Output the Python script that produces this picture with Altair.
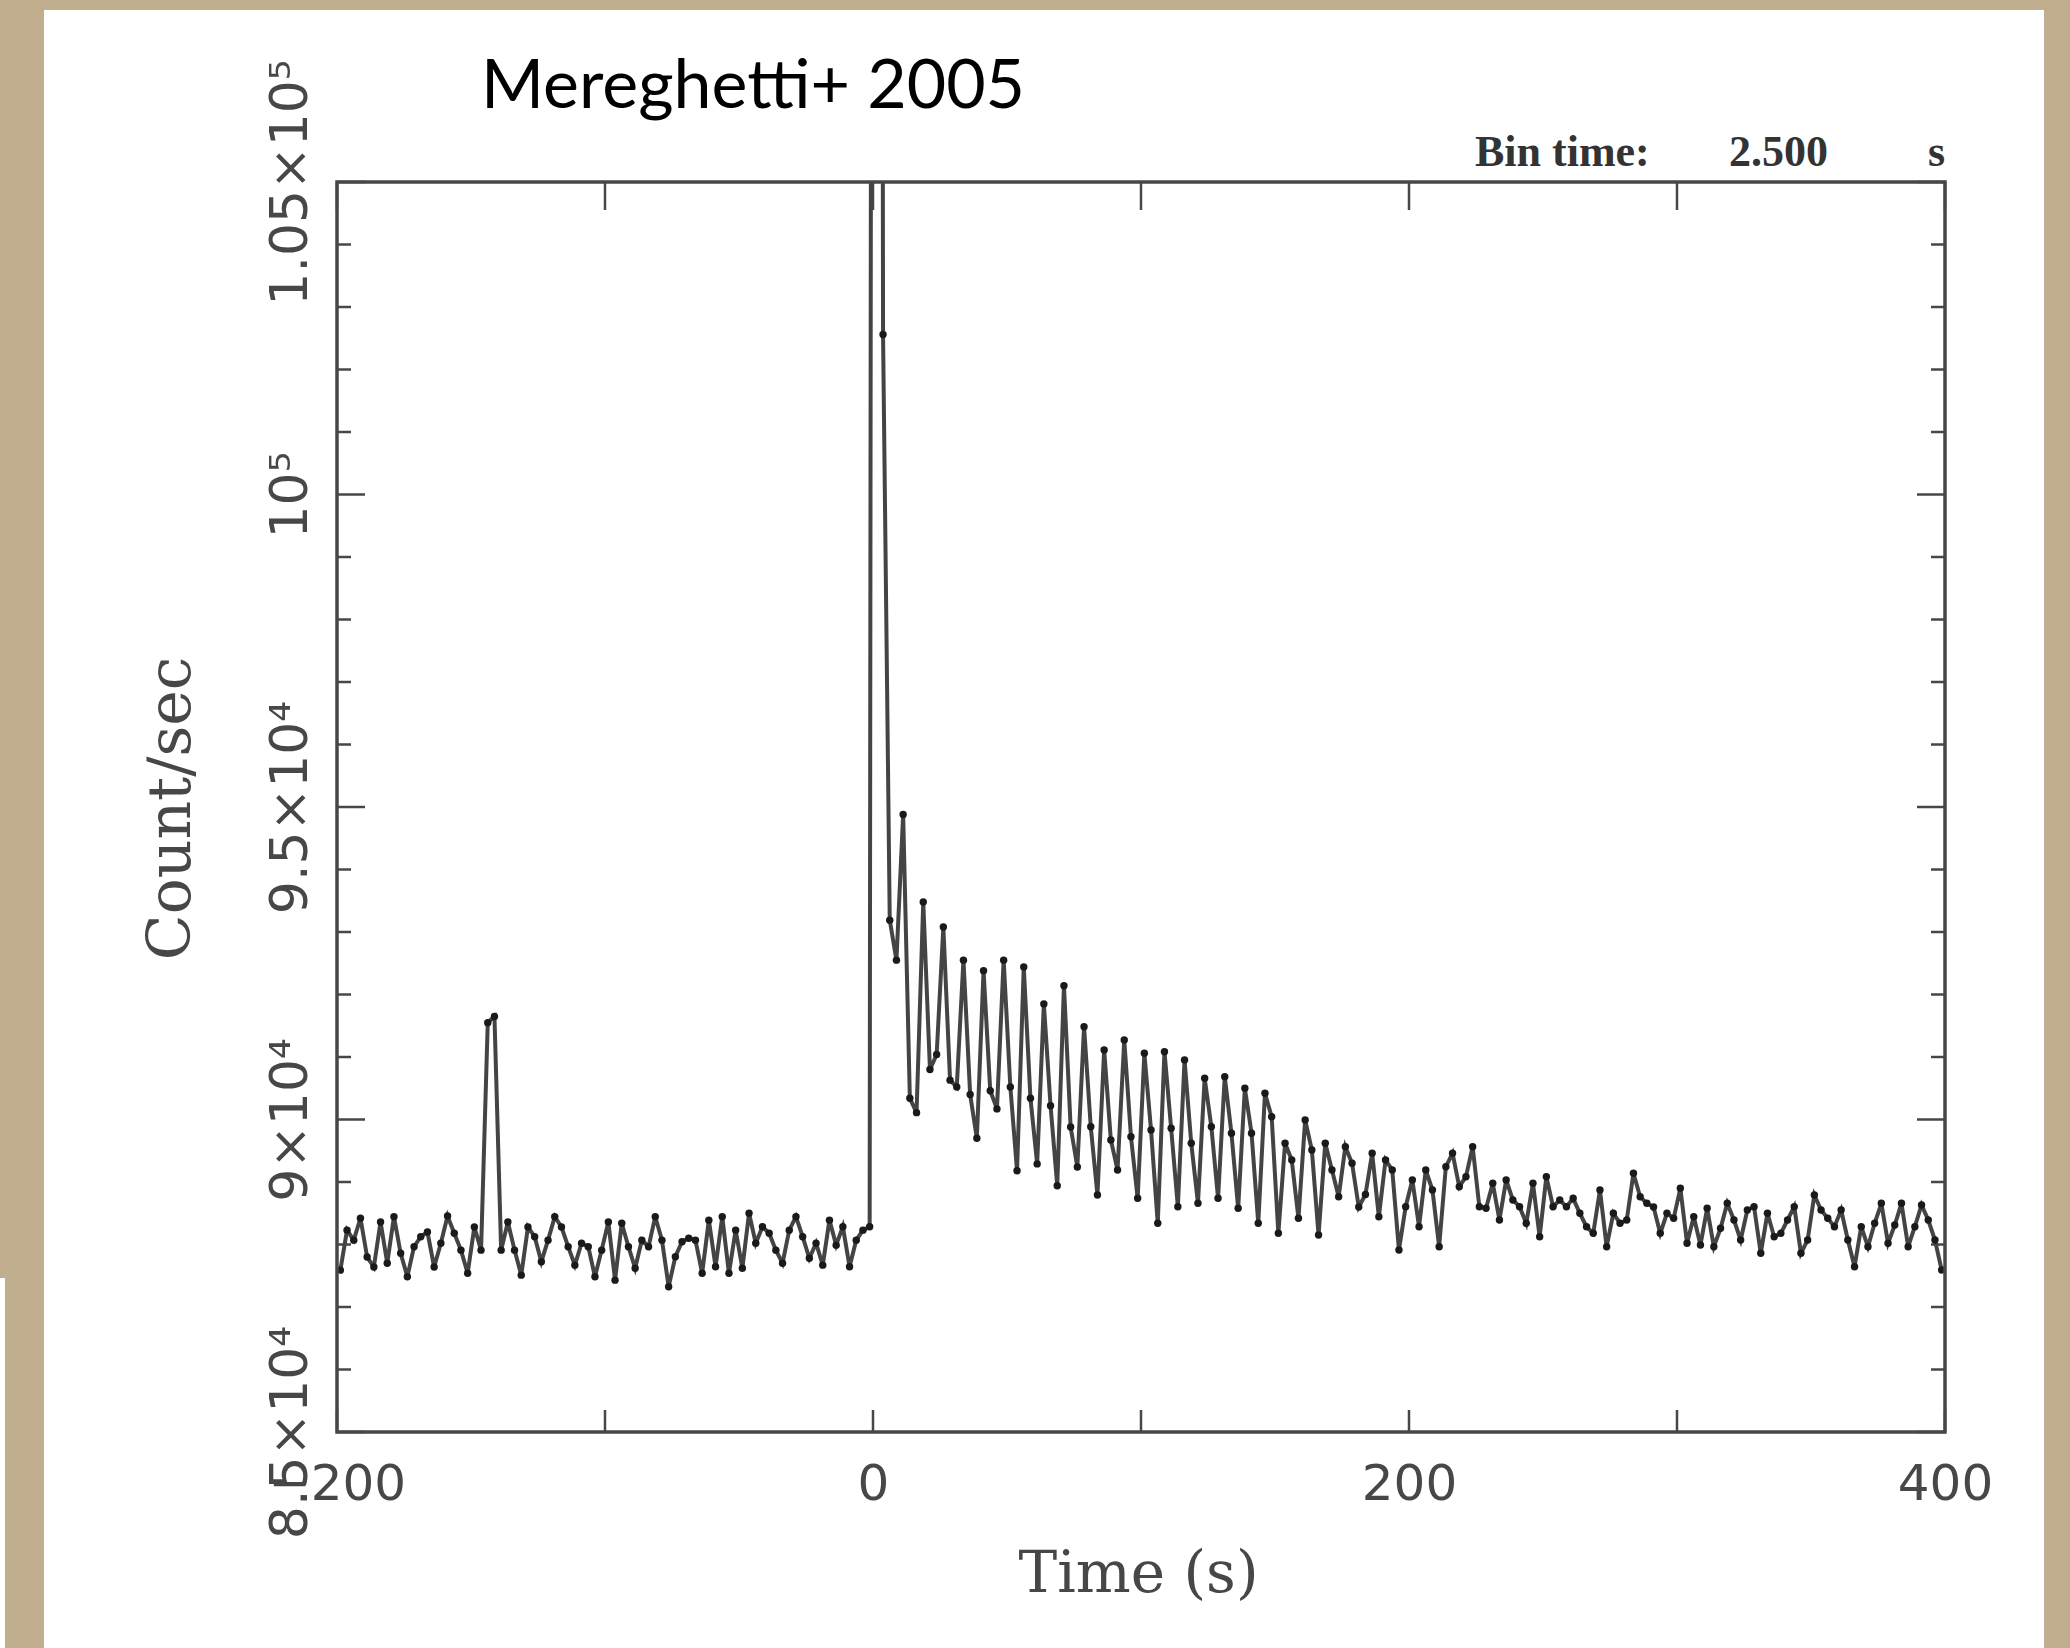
import altair as alt
import pandas as pd

# ---------------- data ----------------
bin_time = 2.5
first_bin_center = -198.75
counts = [
    87590, 88230, 88070, 88420, 87800, 87640, 88360, 87700, 88445, 87860,
    87485, 87965, 88125, 88200, 87640, 88020, 88455, 88180, 87910, 87540,
    88280, 87910, 91550, 91650, 87910, 88360, 87910, 87510, 88280, 88125,
    87725, 88070, 88445, 88280, 87965, 87670, 88020, 87965, 87485, 87910,
    88360, 87430, 88340, 87965, 87620, 88070, 87965, 88445, 88070, 87325,
    87805, 88045, 88100, 88070, 87540, 88390, 87645, 88445, 87540, 88230,
    87620, 88500, 88020, 88285, 88180, 87910, 87700, 88230, 88445, 88125,
    87780, 88020, 87670, 88390, 87990, 88285, 87645, 88070, 88230, 88285,
    180000, 102560, 93190, 92550, 94880, 90340, 90110, 93480, 90800, 91040,
    93080, 90630, 90520, 92550, 90400, 89700, 92380, 90460, 90170, 92550,
    90520, 89180, 92440, 90340, 89290, 91850, 90220, 88940, 92140, 89880,
    89240, 91485, 89885, 88792, 91112, 89672, 89192, 91272, 89725, 88739,
    91059, 89832, 88339, 91085, 89859, 88605, 90952, 89619, 88659, 90659,
    89885, 88739, 90685, 89779, 88579, 90499, 89779, 88339, 90419, 90045,
    88179, 89619, 89352, 88419, 89992, 89512, 88152, 89619, 89192, 88765,
    89565, 89299, 88600, 88800, 89459, 88445, 89352, 89192, 87912, 88605,
    89032, 88285, 89192, 88872, 87965, 89245, 89459, 88925, 89085, 89565,
    88605, 88579, 88979, 88392, 89032, 88712, 88605, 88339, 88979, 88125,
    89085, 88605, 88712, 88605, 88739, 88499, 88285, 88179, 88872, 87965,
    88499, 88339, 88392, 89139, 88765, 88659, 88600, 88179, 88499, 88419,
    88899, 88019, 88445, 87992, 88579, 87965, 88259, 88659, 88392, 88072,
    88552, 88605, 87859, 88499, 88125, 88179, 88392, 88605, 87859, 88072,
    88792, 88552, 88419, 88285, 88552, 88072, 87645, 88285, 87965, 88339,
    88659, 88019, 88312, 88659, 87965, 88285, 88632, 88392, 88072, 87592,
]
times = [first_bin_center + bin_time * i for i in range(len(counts))]

x_domain = [-200, 400]
y_domain = [85000, 105000]
x_major = [-200, -100, 0, 100, 200, 300, 400]
x_labeled = [-200, 0, 200, 400]
x_label_text = ["\u2212200", "0", "200", "400"]
y_major = [85000, 90000, 95000, 100000, 105000]
y_label_text = ["8.5×10⁴", "9×10⁴", "9.5×10⁴", "10⁵", "1.05×10⁵"]
y_minor = [86000, 87000, 88000, 89000, 91000, 92000, 93000, 94000,
           96000, 97000, 98000, 99000, 101000, 102000, 103000, 104000]

title_text = "Mereghetti+ 2005"
bin_label = "Bin time:"
bin_value = "2.500"
bin_unit = "s"

# ---------------- layout ----------------
W, H = 1608, 1250
PAD_L, PAD_T = 337, 182
TOTAL_W, TOTAL_H = 2070, 1648
INK = "#474747"


def label_expr(vals, texts):
    s = "''"
    for v, t in reversed(list(zip(vals, texts))):
        s = f"datum.value === {v} ? '{t}' : {s}"
    return s


xs = alt.Scale(domain=x_domain, nice=False, zero=False)
ys = alt.Scale(domain=y_domain, nice=False, zero=False)

common = dict(ticks=False, tickSize=0, domain=False, grid=False, zindex=1,
              labelOverlap=False, labelFlush=False, labelBound=False,
              labelLimit=0, titleLimit=0,
              labelColor=INK, titleColor=INK, titleFontWeight="normal")

x_axis = alt.Axis(values=x_labeled, labelExpr=label_expr(x_labeled, x_label_text),
                  title="Time (s)", orient="bottom",
                  labelFont="DejaVu Sans", labelFontSize=50, labelPadding=27,
                  labelBaseline="top",
                  titleFont="DejaVu Serif", titleFontSize=58,
                  titleX=801, titleY=159, titleAlign="center",
                  titleBaseline="alphabetic", **common)

y_axis = alt.Axis(values=y_major, labelExpr=label_expr(y_major, y_label_text),
                  title="Count/sec", orient="left",
                  labelFont="DejaVu Sans", labelFontSize=52, labelPadding=31,
                  labelAngle=270, labelAlign="center", labelBaseline="alphabetic",
                  titleFont="DejaVu Serif", titleFontSize=60, titleAngle=270,
                  titleX=-148, titleY=626, titleAlign="center",
                  titleBaseline="alphabetic", **common)

one = alt.Data(values=[{"k": 1}])

panel = alt.Chart(one).mark_rect(color="white").encode(
    x=alt.value(44 - PAD_L), x2=alt.value(2044 - PAD_L),
    y=alt.value(10 - PAD_T), y2=alt.value(TOTAL_H - PAD_T))
strip = alt.Chart(one).mark_rect(color="white").encode(
    x=alt.value(-PAD_L), x2=alt.value(5 - PAD_L),
    y=alt.value(1278 - PAD_T), y2=alt.value(TOTAL_H - PAD_T))

frame = alt.Chart(one).mark_rect(fillOpacity=0, stroke=INK, strokeWidth=3.5).encode(
    x=alt.value(0), x2=alt.value(W), y=alt.value(0), y2=alt.value(H))

ymaj_df = pd.DataFrame({"v": y_major})
ymin_df = pd.DataFrame({"v": y_minor})
xmaj_df = pd.DataFrame({"t": x_major})


def yticks(df, x0, x1):
    return alt.Chart(df).mark_rule(color=INK, strokeWidth=2.5).encode(
        y=alt.Y("v:Q", scale=ys, axis=y_axis), x=alt.value(x0), x2=alt.value(x1))


def xticks(df, y0, y1):
    return alt.Chart(df).mark_rule(color=INK, strokeWidth=2.5).encode(
        x=alt.X("t:Q", scale=xs, axis=x_axis), y=alt.value(y0), y2=alt.value(y1))


ticks = [
    yticks(ymaj_df, 0, 28), yticks(ymin_df, 0, 14),
    yticks(ymaj_df, W - 28, W), yticks(ymin_df, W - 14, W),
    xticks(xmaj_df, 0, 28), xticks(xmaj_df, H - 22, H),
]

df = pd.DataFrame({"time": times, "counts": counts})
base = alt.Chart(df).encode(
    x=alt.X("time:Q", scale=xs, axis=x_axis),
    y=alt.Y("counts:Q", scale=ys, axis=y_axis))
line = base.mark_line(clip=True, color="#444444", strokeWidth=4)
dots = base.mark_circle(clip=True, color="#1a1a1a", size=55, opacity=1)

title = alt.Chart(one).mark_text(text=title_text, font="Lato", fontSize=68,
                                 color="black", align="center",
                                 baseline="alphabetic").encode(
    x=alt.value(753 - PAD_L), y=alt.value(108 - PAD_T))

bt_style = dict(font="Liberation Serif", fontSize=44, color="#333333",
                fontWeight="bold", baseline="alphabetic")
bt1 = alt.Chart(one).mark_text(text=bin_label, align="left", **bt_style).encode(
    x=alt.value(1475 - PAD_L), y=alt.value(166 - PAD_T))
bt2 = alt.Chart(one).mark_text(text=bin_value, align="left", **bt_style).encode(
    x=alt.value(1729 - PAD_L), y=alt.value(166 - PAD_T))
bt3 = alt.Chart(one).mark_text(text=bin_unit, align="left", **bt_style).encode(
    x=alt.value(1928 - PAD_L), y=alt.value(166 - PAD_T))

chart = alt.layer(panel, strip, *ticks, line, dots, frame, title, bt1, bt2, bt3).properties(
    width=W, height=H,
    background="#c0ae8e",
    padding={"left": PAD_L, "top": PAD_T,
             "right": TOTAL_W - PAD_L - W, "bottom": TOTAL_H - PAD_T - H},
    autosize=alt.AutoSizeParams(type="none"),
).configure_view(strokeWidth=0)

chart.save("out.html", embed_options={"renderer": "svg", "actions": False})
